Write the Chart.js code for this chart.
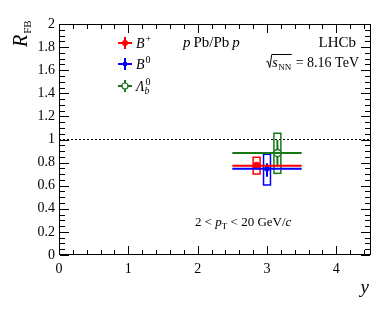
<!DOCTYPE html>
<html>
<head>
<meta charset="utf-8">
<script src="https://cdn.jsdelivr.net/npm/chart.js@4.4.1/dist/chart.umd.min.js"></script>
<style>
html, body { margin: 0; padding: 0; background: #fff; }
canvas { display: block; }
</style>
</head>
<body>
<canvas id="rfbChart" width="390" height="309"></canvas>
<script>
// R_FB values for the three b hadrons, one bin 2.5 < y < 3.5
var species = ['B+', 'B0', 'Lb0'];
var colors = ['#ff0000', '#0000ff', '#167916'];
var binLow = [2.5, 2.5, 2.5];
var binHigh = [3.5, 3.5, 3.5];
var xShifted = [2.85, 3.0, 3.15];
var rfb = [0.773, 0.747, 0.883];
var statUp = [0.025, 0.047, 0.113];
var statDown = [0.022, 0.069, 0.118];
var systUp = [0.073, 0.125, 0.171];
var systDown = [0.072, 0.141, 0.176];
var systHalfWidth = 0.05;
var xTicks = [0, 1, 2, 3, 4];
var yTicks = [0, 0.2, 0.4, 0.6, 0.8, 1, 1.2, 1.4, 1.6, 1.8, 2];
var refLine = 1;

var serif = '"Liberation Serif", "DejaVu Serif", serif';

function txt(ctx, s, x, y, size, italic, align) {
    ctx.font = (italic ? 'italic ' : '') + size + 'px ' + serif;
    ctx.textAlign = align || 'left';
    ctx.fillText(s, x, y);
    return ctx.measureText(s).width;
}

var errorPlugin = {
    id: 'errors',
    beforeDatasetsDraw: function (chart) {
        var ctx = chart.ctx, xs = chart.scales.x, ys = chart.scales.y;
        ctx.save();
        for (var i = 0; i < rfb.length; i++) {
            ctx.strokeStyle = colors[i];
            // systematic box
            var x0 = xs.getPixelForValue(xShifted[i] - systHalfWidth);
            var x1 = xs.getPixelForValue(xShifted[i] + systHalfWidth);
            var y0 = ys.getPixelForValue(rfb[i] + systUp[i]);
            var y1 = ys.getPixelForValue(rfb[i] - systDown[i]);
            ctx.lineWidth = 1.5;
            ctx.strokeRect(x0, y0, x1 - x0, y1 - y0);
            // statistical bar
            var xc = xs.getPixelForValue(xShifted[i]);
            ctx.lineWidth = 2;
            ctx.beginPath();
            ctx.moveTo(xc, ys.getPixelForValue(rfb[i] + statUp[i]));
            ctx.lineTo(xc, ys.getPixelForValue(rfb[i] - statDown[i]));
            ctx.stroke();
        }
        ctx.restore();
    },
    afterDraw: function (chart) {
        var ctx = chart.ctx, xs = chart.scales.x, ys = chart.scales.y;
        var a = chart.chartArea;
        var L = Math.round(a.left), R = Math.round(a.right) - 1;
        var T = Math.round(a.top), B = Math.round(a.bottom) - 1;
        ctx.save();
        ctx.fillStyle = '#000';
        // frame
        ctx.fillRect(L, T, R - L + 1, 1);
        ctx.fillRect(L, B, R - L + 1, 1);
        ctx.fillRect(L, T, 1, B - T + 1);
        ctx.fillRect(R, T, 1, B - T + 1);
        // inward ticks on all four sides
        var n, p, len;
        for (n = 0; n <= 22; n++) {
            p = Math.round(xs.getPixelForValue(n * 0.2));
            if (p > R) break;
            len = n % 5 === 0 ? 8 : 4;
            ctx.fillRect(p, B - len, 1, len);
            ctx.fillRect(p, T + 1, 1, len);
        }
        for (n = 0; n <= 40; n++) {
            p = Math.round(ys.getPixelForValue(n * 0.05));
            len = n % 4 === 0 ? 9 : 5;
            ctx.fillRect(L + 1, p, len, 1);
            ctx.fillRect(R - len, p, len, 1);
        }

        ctx.textBaseline = 'alphabetic';
        // axis titles
        txt(ctx, 'y', 369, 293, 19, true, 'right');
        ctx.save();
        ctx.translate(27, 47);
        ctx.rotate(-Math.PI / 2);
        var w = txt(ctx, 'R', 0, 0, 20, true);
        txt(ctx, 'FB', w + 1, 4, 11, false);
        ctx.restore();

        // LHCb and energy
        txt(ctx, 'LHCb', 356, 47, 15, false, 'right');
        var rest = ' = 8.16 TeV';
        ctx.font = '14px ' + serif;
        var wRest = ctx.measureText(rest).width;
        var xr = 359 - wRest;
        txt(ctx, rest, xr, 67, 14, false);
        ctx.font = '9px ' + serif;
        var wNN = ctx.measureText('NN').width;
        var xNN = xr - wNN - 1;
        txt(ctx, 'NN', xNN, 70, 9, false);
        ctx.font = 'italic 14px ' + serif;
        var wS = ctx.measureText('s').width;
        var xS = xNN - wS - 0.5;
        txt(ctx, 's', xS, 67, 14, true);
        ctx.strokeStyle = '#000';
        ctx.lineWidth = 1;
        ctx.beginPath();
        ctx.moveTo(xS - 6, 62);
        ctx.lineTo(xS - 4.5, 61);
        ctx.lineTo(xS - 2.5, 67.5);
        ctx.lineTo(xS - 0.5, 54.5);
        ctx.lineTo(xr - 0.5, 54.5);
        ctx.stroke();

        // collision system
        var x = 183;
        x += txt(ctx, 'p', x, 47, 15, true) + 3;
        x += txt(ctx, 'Pb/Pb', x, 47, 15, false) + 3;
        txt(ctx, 'p', x, 47, 15, true);

        // pT range
        x = 195;
        x += txt(ctx, '2 < ', x, 226, 13, false);
        x += txt(ctx, 'p', x, 226, 13, true);
        x += txt(ctx, 'T', x, 229, 9, false);
        x += txt(ctx, ' < 20 GeV/', x, 226, 13, false);
        txt(ctx, 'c', x, 226, 13, true);

        // legend
        var legY = [43, 64, 86];
        var labels = [['B', '+', ''], ['B', '0', ''], ['\u039B', '0', 'b']];
        for (var i = 0; i < 3; i++) {
            var cx = 125, cy = legY[i];
            ctx.strokeStyle = colors[i];
            ctx.fillStyle = colors[i];
            ctx.lineWidth = 2;
            ctx.beginPath();
            ctx.moveTo(cx - 7, cy); ctx.lineTo(cx + 7, cy);
            ctx.moveTo(cx, cy - 6); ctx.lineTo(cx, cy + 6);
            ctx.stroke();
            if (i === 0) {
                ctx.beginPath(); ctx.arc(cx, cy, 3, 0, 2 * Math.PI); ctx.fill();
            } else if (i === 1) {
                ctx.fillRect(cx - 2, cy - 2, 4, 4);
            } else {
                ctx.fillStyle = '#fff';
                ctx.lineWidth = 1.2;
                ctx.beginPath(); ctx.arc(cx, cy, 3, 0, 2 * Math.PI); ctx.fill(); ctx.stroke();
            }
            ctx.fillStyle = '#000';
            var lx = 136;
            var wb = txt(ctx, labels[i][0], lx, cy + 5, 14, true);
            txt(ctx, labels[i][1], lx + wb + 1, cy - 1, 10, false);
            if (labels[i][2]) txt(ctx, labels[i][2], lx + wb, cy + 8, 10, true);
        }
        ctx.restore();
    }
};

var datasets = [{
    type: 'line',
    data: [{ x: 0, y: refLine }, { x: 4.5, y: refLine }],
    borderColor: '#000',
    borderWidth: 1,
    borderDash: [2, 2],
    pointRadius: 0
}];
for (var i = 0; i < rfb.length; i++) {
    datasets.push({
        type: 'line',
        data: [{ x: binLow[i], y: rfb[i] }, { x: binHigh[i], y: rfb[i] }],
        borderColor: colors[i],
        borderWidth: 2,
        pointRadius: 0
    });
}
datasets.push({
    type: 'scatter',
    data: rfb.map(function (v, i) { return { x: xShifted[i], y: v }; }),
    pointStyle: ['circle', 'rect', 'circle'],
    pointRadius: [3.5, 2.8, 3.5],
    backgroundColor: ['#ff0000', '#0000ff', '#ffffff'],
    borderColor: colors,
    borderWidth: [1, 1, 1.3]
});

new Chart(document.getElementById('rfbChart').getContext('2d'), {
    type: 'scatter',
    data: { datasets: datasets },
    options: {
        responsive: false,
        animation: false,
        devicePixelRatio: 1,
        layout: { padding: { top: 24, right: 19, left: 0, bottom: 0 } },
        plugins: { legend: { display: false }, tooltip: { enabled: false } },
        scales: {
            x: {
                type: 'linear', min: 0, max: 4.5,
                grid: { display: false, drawTicks: false },
                border: { display: false },
                afterBuildTicks: function (s) { s.ticks = xTicks.map(function (v) { return { value: v }; }); },
                afterFit: function (s) { s.height = 54; },
                ticks: {
                    color: '#000', padding: 6, maxRotation: 0, autoSkip: false,
                    font: { family: serif, size: 14 },
                    callback: function (v) { return String(v); }
                }
            },
            y: {
                type: 'linear', min: 0, max: 2,
                grid: { display: false, drawTicks: false },
                border: { display: false },
                afterBuildTicks: function (s) { s.ticks = yTicks.map(function (v) { return { value: v }; }); },
                afterFit: function (s) { s.width = 59; },
                ticks: {
                    color: '#000', padding: 4, autoSkip: false,
                    font: { family: serif, size: 14 },
                    callback: function (v) { return (Math.round(v * 10) / 10).toString(); }
                }
            }
        }
    },
    plugins: [errorPlugin]
});
</script>
</body>
</html>
